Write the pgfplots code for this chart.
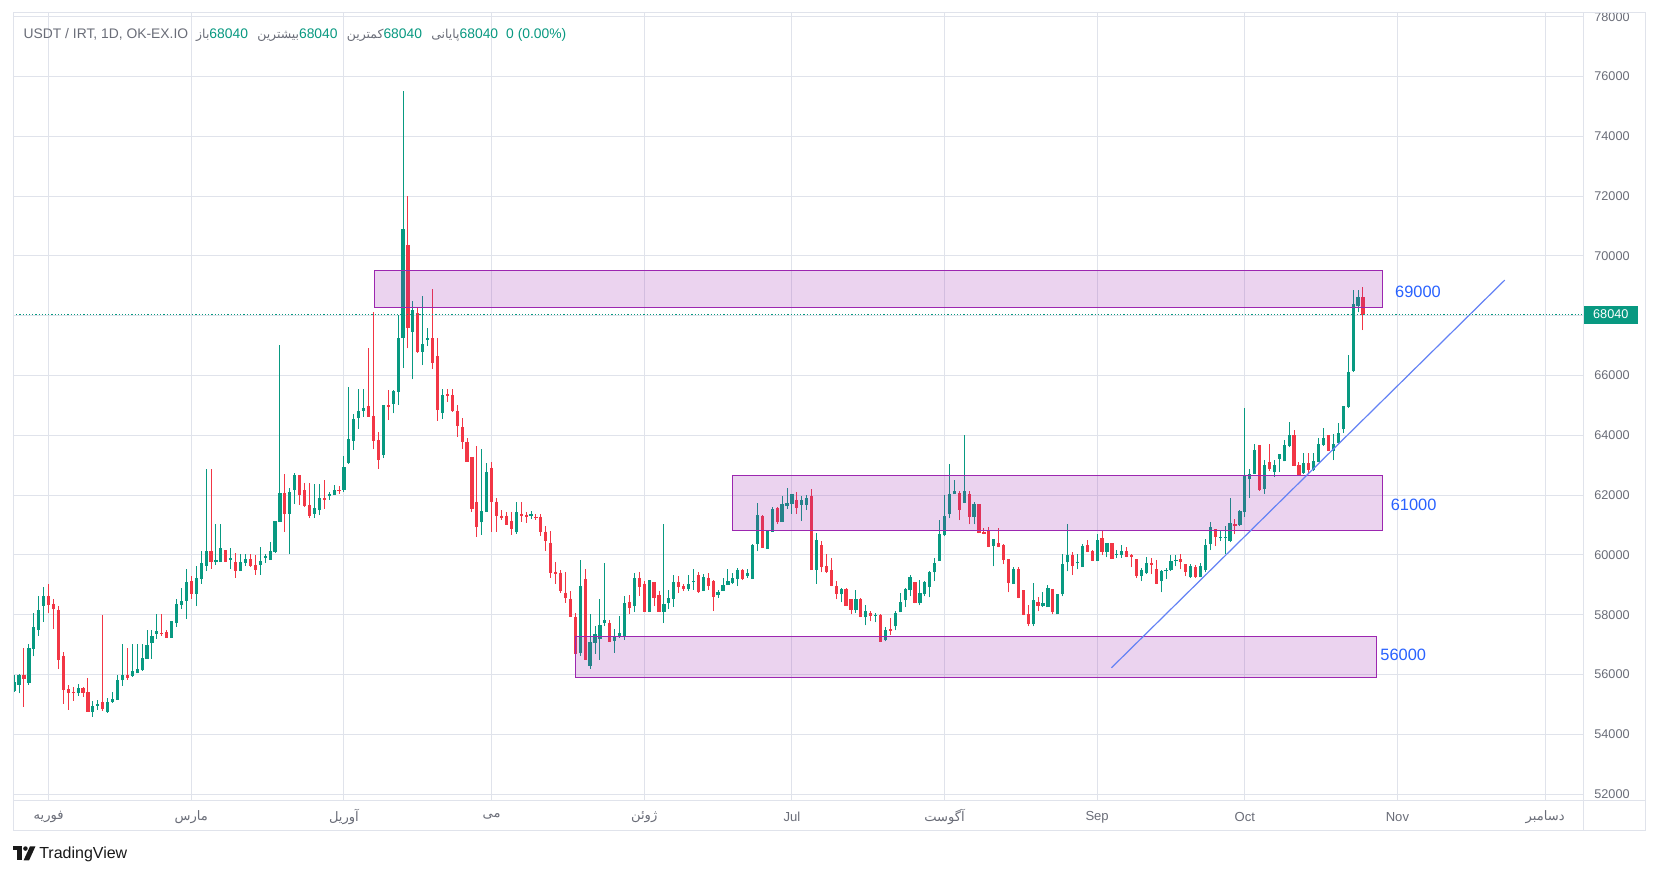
\documentclass[border=0pt]{standalone}
\usepackage{fontspec}
\usepackage{pgfplots}
\usepackage{pgfplotstable}
\pgfplotsset{compat=1.18}
\setmainfont{Liberation Sans}
\newfontfamily\fa[Script=Arabic]{DejaVu Sans}
\TeXXeTstate=1
\definecolor{up}{RGB}{8,153,129}
\definecolor{dn}{RGB}{242,54,69}
\definecolor{gridc}{RGB}{224,227,235}
\definecolor{lbl}{RGB}{106,109,120}
\definecolor{purp}{RGB}{156,39,176}
\definecolor{tvblue}{RGB}{41,98,255}
\definecolor{trend}{RGB}{100,130,245}

\pgfplotstableread{
d O H L C
24 55450 55980 55420 55750
25 55650 56020 55370 56000
26 56000 56890 54920 55840
27 55730 57020 55660 56890
28 56860 58050 56610 57590
29 57500 58620 57290 58150
30 58300 58920 57750 58620
31 58620 59030 58050 58340
32 58360 58530 57520 58190
33 58160 58290 56180 56500
34 56620 56750 55020 55490
35 55500 55650 54820 55390
36 55410 55580 55120 55390
37 55370 55680 55290 55550
38 55550 55580 55260 55390
39 55410 55880 54760 54760
40 54760 55110 54590 54940
41 54960 55150 54820 55030
42 55080 57990 54780 54850
43 54750 55210 54720 55080
44 55080 55410 55060 55180
45 55150 56000 55150 55820
46 55800 57020 55630 56000
47 56000 56890 55830 55870
48 55950 57020 55930 56120
49 56040 57020 56040 56180
50 56150 57020 56120 56550
51 56520 57490 56520 56990
52 57050 57490 56520 57290
53 57360 58020 57190 57460
54 57380 58020 57290 57340
55 57420 57490 57220 57220
56 57220 57790 57220 57790
57 57720 58530 57590 58360
58 58320 58890 58190 58460
59 58460 59530 57860 59090
60 59130 59300 58530 58690
61 58690 59630 58290 59230
62 59190 60130 59030 59730
63 59630 62870 59460 60130
64 60130 62870 59530 59760
65 59760 61030 59660 59830
66 59760 61030 59760 60230
67 60160 60160 59760 59760
68 59830 60230 59530 59900
69 59760 60060 59230 59460
70 59460 60030 59460 59760
71 59730 60030 59630 59860
72 59860 60030 59600 59630
73 59660 59990 59330 59500
74 59660 60260 59330 59800
75 59900 60030 59730 59960
76 59830 60430 59830 60130
77 60100 61130 60060 61130
78 61100 67010 61100 62070
79 62070 62710 60780 61370
80 61370 62240 60030 62100
81 62170 62740 61700 62670
82 62670 62670 61670 62000
83 62170 62410 61600 61640
84 61670 62410 61230 61300
85 61370 62370 61230 61570
86 61500 62370 61330 61900
87 61900 62510 61540 61840
88 61970 62100 61840 62040
89 62000 62340 62000 62170
90 62170 62300 62040 62140
91 62180 63310 62120 62940
92 63070 65610 63040 63880
93 63820 64710 63510 64540
94 64590 65540 64220 64810
95 64820 65540 64620 64910
96 64980 66910 64620 64620
97 64640 68120 63530 63820
98 63840 64110 62890 63180
99 63340 65010 63240 65010
100 65010 65510 64510 64960
101 65060 65510 64730 65480
102 65450 68040 65030 67270
103 67250 75500 66250 70900
104 70370 72000 66910 67580
105 67450 68500 65870 68200
106 68090 68290 66760 66800
107 66800 68670 66350 67040
108 67200 67580 66980 67250
109 67240 68900 66220 66420
110 66640 67240 64490 64850
111 64750 65540 64550 65340
112 65380 65540 65120 65310
113 65340 65540 64780 64810
114 64800 65030 63950 64310
115 64270 64570 63550 63760
116 63760 63900 63110 63110
117 63280 63280 61450 61550
118 61770 63650 60610 60950
119 61090 63550 60680 61470
120 61450 63070 61450 62770
121 62910 63110 60780 61780
122 61780 61910 60780 61310
123 61310 61510 61180 61240
124 61310 61450 61010 61010
125 61150 61450 60680 60880
126 60750 61780 60710 61450
127 61380 61780 61110 61310
128 61350 61450 61080 61280
129 61310 61480 61210 61380
130 61280 61380 61180 61240
131 61270 61370 60640 60780
132 60780 60980 60140 60480
133 60410 60810 59240 59410
134 59440 59760 59040 59370
135 59410 59500 58740 58800
136 58740 59440 58400 58570
137 58540 58800 57930 57930
138 57930 58060 56600 56700
139 56720 59830 56630 58960
140 59190 59530 56500 56500
141 56300 58020 56200 57090
142 57060 57620 56700 57350
143 57200 58530 56500 57660
144 57720 59730 57620 57820
145 57720 57820 57100 57100
146 57130 57520 56730 57290
147 57270 57960 57230 57390
148 57270 58630 57170 58390
149 58430 58660 58020 58220
150 58290 59400 58090 59230
151 59230 59430 58630 58930
152 59030 59130 58090 58090
153 58090 59160 58090 59160
154 59090 59090 58290 58560
155 58660 58790 58090 58090
156 58090 61030 57720 58360
157 58390 58830 58190 58560
158 58530 59330 58260 59090
159 59090 59300 58730 58930
160 58960 59030 58790 58860
161 58860 59330 58790 59030
162 59090 59530 58830 59130
163 59330 59430 58730 58760
164 58790 59360 58790 59260
165 59230 59400 58830 58960
166 59130 59160 58120 58590
167 58660 58830 58560 58760
168 58790 59230 58790 58990
169 58990 59530 58990 59130
170 59060 59400 59030 59230
171 59190 59560 58960 59500
172 59500 59530 59160 59190
173 59300 59530 59230 59400
174 59190 60370 59190 60330
175 60370 61740 60130 61340
176 61300 61340 60230 60230
177 60200 60830 60200 60800
178 60770 61600 60770 61540
179 61570 61600 61030 61100
180 61100 61970 61100 61700
181 61640 62240 61540 61740
182 61700 62040 61370 62040
183 61840 62100 61370 61570
184 61670 61970 61130 61840
185 61670 62000 61500 61900
186 61970 62200 59500 59500
187 59500 60730 59030 60500
188 60320 60450 59420 59580
189 59620 60020 59400 59430
190 59480 59890 58950 58950
191 58950 59120 58510 58680
192 58680 58880 58410 58850
193 58850 58880 58280 58280
194 58510 58510 58010 58150
195 58150 58820 58050 58510
196 58510 58550 57910 57910
197 57910 58310 57640 58110
198 58050 58110 57780 57950
199 57960 58050 57740 57980
200 57980 58010 57080 57080
201 57140 57580 57110 57480
202 57510 57880 57310 57440
203 57610 58110 57480 58050
204 58080 58720 58080 58410
205 58480 58880 58250 58850
206 58820 59320 58610 59250
207 59080 59080 58380 58380
208 58380 59150 58310 58720
209 58680 59120 58610 59080
210 58920 59450 58580 59420
211 59420 59890 59120 59720
212 59790 61160 59790 60690
213 60650 61990 60620 61290
214 61360 63030 61220 62030
215 62030 62490 62030 62130
216 62060 62130 61160 61490
217 61730 64000 61730 62130
218 62030 62130 61020 61260
219 61260 61760 61020 61690
220 61690 61690 60720 60720
221 60760 60890 60690 60690
222 60820 60920 60250 60250
223 60290 60520 59620 60520
224 60390 60890 60250 60250
225 60320 60350 59680 59820
226 59850 59850 58750 59050
227 59020 59580 59020 59520
228 59520 59580 58550 58550
229 58820 58820 57980 57980
230 58010 58310 57610 57680
231 57680 59050 57610 58480
232 58410 58580 58110 58280
233 58280 58750 58250 58380
234 58250 58980 58250 58880
235 58850 58850 58010 58080
236 58010 58680 58010 58680
237 58680 60020 58610 59690
238 59750 61020 59450 59990
239 59990 60090 59320 59620
240 59720 60020 59520 59750
241 59590 60360 59590 60290
242 60330 60490 60090 60090
243 60120 60160 59790 59790
244 59790 60690 59790 60490
245 60560 60790 59990 60090
246 60090 60390 59920 60390
247 60390 60390 59860 59860
248 60010 60160 59890 60040
249 59990 60330 59890 60120
250 60120 60260 59920 59920
251 59990 60020 59590 59920
252 59860 59860 59220 59290
253 59290 59560 59120 59490
254 59390 59920 59360 59720
255 59720 59890 59360 59650
256 59520 59820 59020 59020
257 59120 59490 58750 59450
258 59450 59560 59190 59490
259 59490 59990 59460 59790
260 59790 59990 59620 59820
261 59860 60020 59520 59760
262 59690 59690 59290 59420
263 59250 59690 59220 59620
264 59590 59660 59220 59250
265 59250 59720 59250 59620
266 59490 60530 59420 60330
267 60360 61090 60160 60930
268 60860 60860 60290 60590
269 60570 60790 60460 60600
270 60570 60960 60020 60600
271 60460 61900 60430 61060
272 61030 61190 60690 60960
273 60990 61500 60960 61460
274 61430 64910 61260 62650
275 62530 62870 61900 62700
276 62700 63700 62700 63500
277 63670 63670 62130 62160
278 62200 63170 62030 63000
279 63100 63700 62800 62870
280 62770 63170 62600 63000
281 63200 63370 62770 63370
282 63130 63840 63130 63670
283 63640 64440 63600 64000
284 64000 64170 62970 62970
285 63000 63100 62650 62650
286 62730 63400 62700 63070
287 63070 63400 62700 62830
288 62830 63400 62800 63130
289 63100 63900 63100 63700
290 63670 64240 63640 63900
291 64000 64000 63470 63470
292 63470 64040 63170 63700
293 63740 64400 63700 64070
294 64200 64970 64070 64970
295 64940 66680 64910 66110
296 66140 68850 66110 68390
297 68320 68850 68120 68620
298 68620 68950 67520 68040
}\candles

\begin{document}
\begin{tikzpicture}
\path[use as bounding box, fill=white] (0,0) rectangle (1243.5pt,657pt);
\begin{axis}[
  at={(9.75pt,57pt)}, anchor=south west,
  scale only axis, width=1177.5pt, height=590.25pt,
  xmin=23.77, xmax=342.7, ymin=51803, ymax=78124,
  axis line style={gridc, line width=0.75pt},
  xtick={31,60,91,121,152,182,213,244,274,305,335},
  xticklabels={{\fa\beginR فوریه\endR},{\fa\beginR مارس\endR},{\fa\beginR آوریل\endR},{\fa\beginR می\endR},{\fa\beginR ژوئن\endR},Jul,{\fa\beginR آگوست\endR},Sep,Oct,Nov,{\fa\beginR دسامبر\endR}},
  ytick={52000,54000,56000,58000,60000,62000,64000,66000,68000,70000,72000,74000,76000,78000},
  yticklabel pos=right,
  scaled y ticks=false,
  /pgf/number format/1000 sep={},
  /pgf/number format/assume math mode=true,
  major tick length=0pt,
  grid=major,
  major grid style={gridc, line width=0.75pt},
  tick label style={font=\fontsize{9.5}{11}\selectfont, text=lbl},
  yticklabel style={anchor=center, xshift=21.75pt},
  xticklabel style={anchor=center, yshift=-12.6pt, font=\fontsize{9.8}{11}\selectfont},
  colormap={updown}{rgb255=(242,54,69) rgb255=(8,153,129)},
  point meta min=0, point meta max=1,
  clip mode=individual,
]
% wicks
\addplot[point meta=explicit, quiver={u=0, v=\thisrow{H}-\thisrow{L}, colored, every arrow/.append style={line width=0.75pt, line cap=butt}}]
  table[x=d, y=L, meta expr={\thisrow{C}>=\thisrow{O}}] {\candles};
% bodies
\addplot[point meta=explicit, quiver={u=0, v=\thisrow{C}-\thisrow{O}, colored, every arrow/.append style={line width=2.4pt, line cap=butt}}]
  table[x=d, y=O, meta expr={\thisrow{C}>=\thisrow{O}}] {\candles};
% zones
\addplot[draw=purp, line width=0.75pt, fill=purp, fill opacity=0.2] coordinates {(97.2,68270) (301.9,68270) (301.9,69510) (97.2,69510) (97.2,68270)};
\addplot[draw=purp, line width=0.75pt, fill=purp, fill opacity=0.2] coordinates {(170.0,60810) (301.9,60810) (301.9,62650) (170.0,62650) (170.0,60810)};
\addplot[draw=purp, line width=0.75pt, fill=purp, fill opacity=0.2] coordinates {(138.0,55890) (300.8,55890) (300.8,57270) (138.0,57270) (138.0,55890)};
% trend line
\addplot[trend, line width=0.9pt] coordinates {(246.9,56224) (326.8,69190)};
% last price line
\addplot[up, line width=0.9pt, dash pattern=on 0.9pt off 1.5pt] coordinates {(23.77,68040) (342.7,68040)};
\node[anchor=west, inner sep=0, text=tvblue, font=\fontsize{12.3}{14}\selectfont] at (axis cs:304.5,68800) {69000};
\node[anchor=west, inner sep=0, text=tvblue, font=\fontsize{12.3}{14}\selectfont] at (axis cs:303.6,61660) {61000};
\node[anchor=west, inner sep=0, text=tvblue, font=\fontsize{12.3}{14}\selectfont] at (axis cs:301.5,56650) {56000};
\node[anchor=west, fill=up, text=white, inner sep=0, minimum width=41.25pt, minimum height=13.5pt, font=\fontsize{9.5}{11}\selectfont] at (axis cs:342.7,68040) {68040};
\end{axis}
% frame
\draw[gridc, line width=0.75pt] (9.75pt,34.5pt) rectangle (1233.75pt,647.25pt);
\draw[gridc, line width=0.75pt] (1187.25pt,34.5pt) -- (1187.25pt,647.25pt);
\draw[gridc, line width=0.75pt] (9.75pt,57pt) -- (1233.75pt,57pt);
% header
\node[anchor=west, inner sep=0, font=\fontsize{10.4}{12}\selectfont] at (17.5pt,631pt)
 {\color{lbl}USDT / IRT, 1D, OK-EX.IO\hspace{6pt}{\fa\fontsize{9.3}{12}\selectfont\beginR باز\endR}\color{up}68040\hspace{7pt}\color{lbl}{\fa\fontsize{9.3}{12}\selectfont\beginR بیشترین\endR}\color{up}68040\hspace{7pt}\color{lbl}{\fa\fontsize{9.3}{12}\selectfont\beginR کمترین\endR}\color{up}68040\hspace{7pt}\color{lbl}{\fa\fontsize{9.3}{12}\selectfont\beginR پایانی\endR}\color{up}68040\hspace{6pt}0 (0.00\%)};
% TradingView logo
\fill[black!90] (9.75pt,22.25pt) rectangle (16.5pt,19.25pt);
\fill[black!90] (12.75pt,22.25pt) rectangle (16.5pt,11.75pt);
\fill[black!90] (19.1pt,20.6pt) circle (1.7pt);
\fill[black!90] (22.5pt,22.25pt) -- (26.6pt,22.25pt) -- (21.8pt,11.75pt) -- (17.7pt,11.75pt) -- cycle;
\node[anchor=west, inner sep=0, text=black!90, font=\fontsize{12}{14}\selectfont] at (29.25pt,16.5pt) {TradingView};
\end{tikzpicture}
\end{document}
